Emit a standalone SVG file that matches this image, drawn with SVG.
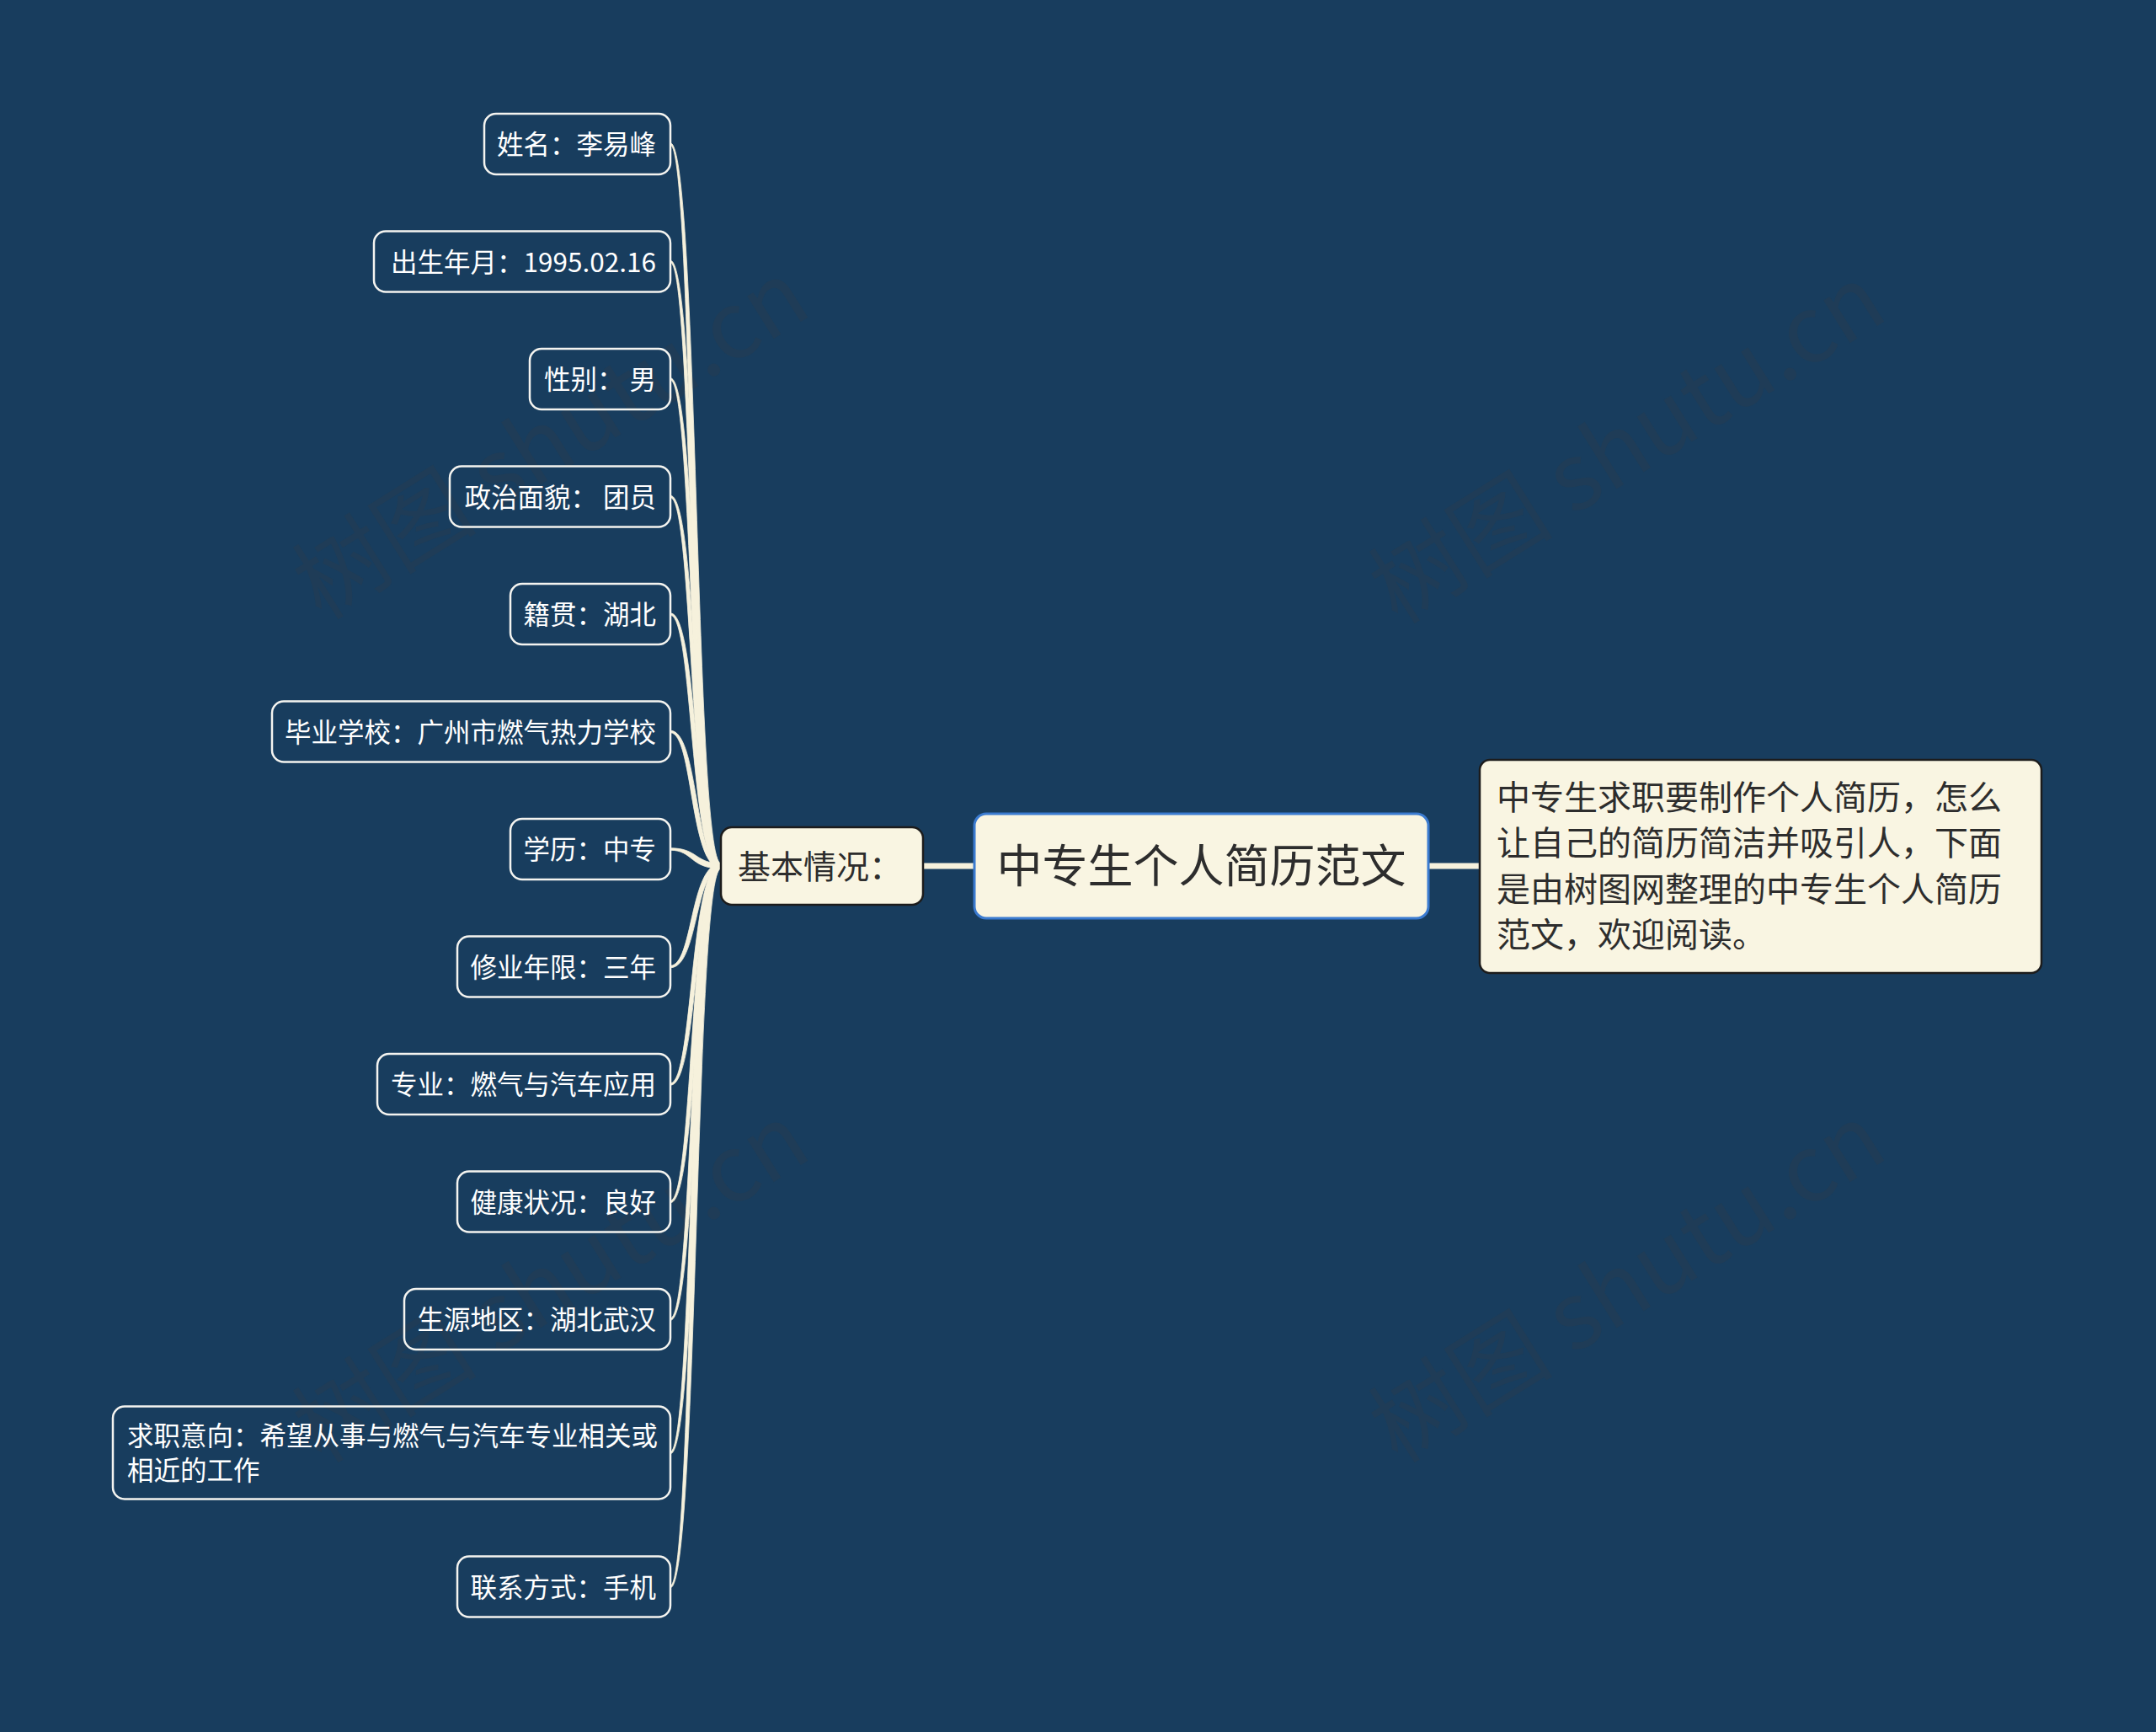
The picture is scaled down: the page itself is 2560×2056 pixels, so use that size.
<svg xmlns="http://www.w3.org/2000/svg" width="2560" height="2056" viewBox="0 0 2560 2056">
<style>
.bg{fill:#183d5e}
.wm{font-family:"Noto Sans CJK SC","Noto Sans",sans-serif;font-size:110px;fill:#3c3c3c;fill-opacity:0.2}
.leaf rect{fill:none;stroke:#f4f4f0;stroke-width:2.5}
.leaf text{font-family:"Noto Sans CJK SC","Noto Sans",sans-serif;font-size:31.5px;fill:#ffffff}
.conn path{fill:#f6f1dc;stroke:#f6f1dc;stroke-width:0.8;stroke-linejoin:round}
.conn line{stroke:#f6f1dc;stroke-width:7}
.dark{font-family:"Noto Sans CJK SC","Noto Sans",sans-serif;fill:#2d2d2d}
</style>
<rect class="bg" x="0" y="0" width="2560" height="2056"/>
<g id="watermarks">
<text class="wm" transform="translate(649,514) rotate(-32)" text-anchor="middle" dominant-baseline="central">树图 shutu.cn</text>
<text class="wm" transform="translate(1927,519) rotate(-32)" text-anchor="middle" dominant-baseline="central">树图 shutu.cn</text>
<text class="wm" transform="translate(649,1515) rotate(-32)" text-anchor="middle" dominant-baseline="central">树图 shutu.cn</text>
<text class="wm" transform="translate(1927,1515) rotate(-32)" text-anchor="middle" dominant-baseline="central">树图 shutu.cn</text>
</g>
<g id="connectors" class="conn">
<line x1="1096" y1="1028" x2="1158" y2="1028"/>
<line x1="1696" y1="1028" x2="1757" y2="1028"/>
<path d="M796,169.75 C829,169.75 825,1025 856,1025 L856,1031 C819,1031 823,172.25 796,172.25Z"/>
<path d="M796,309.25 C829,309.25 825,1025 856,1025 L856,1031 C819,1031 823,311.75 796,311.75Z"/>
<path d="M796,448.75 C829,448.75 825,1025 856,1025 L856,1031 C819,1031 823,451.25 796,451.25Z"/>
<path d="M796,588.25 C829,588.25 825,1025 856,1025 L856,1031 C819,1031 823,590.75 796,590.75Z"/>
<path d="M796,727.75 C829,727.75 825,1025 856,1025 L856,1031 C819,1031 823,730.25 796,730.25Z"/>
<path d="M796,867.25 C829,867.25 825,1025 856,1025 L856,1031 C819,1031 823,869.75 796,869.75Z"/>
<path d="M796,1006.75 C829,1006.75 825,1025 856,1025 L856,1031 C819,1031 823,1009.25 796,1009.25Z"/>
<path d="M796,1146.25 C823,1146.25 819,1025 856,1025 L856,1031 C825,1031 829,1148.75 796,1148.75Z"/>
<path d="M796,1285.75 C823,1285.75 819,1025 856,1025 L856,1031 C825,1031 829,1288.25 796,1288.25Z"/>
<path d="M796,1425.25 C823,1425.25 819,1025 856,1025 L856,1031 C825,1031 829,1427.75 796,1427.75Z"/>
<path d="M796,1564.75 C823,1564.75 819,1025 856,1025 L856,1031 C825,1031 829,1567.25 796,1567.25Z"/>
<path d="M796,1723.25 C823,1723.25 819,1025 856,1025 L856,1031 C825,1031 829,1725.75 796,1725.75Z"/>
<path d="M796,1882.25 C823,1882.25 819,1025 856,1025 L856,1031 C825,1031 829,1884.75 796,1884.75Z"/>
</g>
<g id="root">
<rect x="1157" y="966" width="539" height="124" rx="14" fill="#f9f5e2" stroke="#3b7bd0" stroke-width="3"/>
<text class="dark" x="1426.5" y="1048" font-size="54" text-anchor="middle">中专生个人简历范文</text>
</g>
<g id="basic">
<rect x="856" y="982" width="240" height="92" rx="13" fill="#f9f5e2" stroke="#1c1c1c" stroke-width="2.5"/>
<text class="dark" x="876" y="1043" font-size="39">基本情况：</text>
</g>
<g id="desc">
<rect x="1757" y="902" width="667" height="253" rx="12" fill="#f9f5e2" stroke="#1c1c1c" stroke-width="2.5"/>
<text class="dark" font-size="40">
<tspan x="1777" y="961">中专生求职要制作个人简历，怎么</tspan>
<tspan x="1777" y="1015">让自己的简历简洁并吸引人，下面</tspan>
<tspan x="1777" y="1070">是由树图网整理的中专生个人简历</tspan>
<tspan x="1777" y="1124">范文，欢迎阅读。</tspan>
</text>
</g>
<g id="leaf1" class="leaf"><rect x="575" y="135" width="221" height="72" rx="14"/><text x="779" y="183" text-anchor="end">姓名：李易峰</text></g>
<g id="leaf2" class="leaf"><rect x="444" y="274.5" width="352" height="72" rx="14"/><text x="779" y="322.5" text-anchor="end">出生年月：1995.02.16</text></g>
<g id="leaf3" class="leaf"><rect x="629" y="414" width="167" height="72" rx="14"/><text x="779" y="462" text-anchor="end">性别： 男</text></g>
<g id="leaf4" class="leaf"><rect x="534" y="553.5" width="262" height="72" rx="14"/><text x="779" y="601.5" text-anchor="end">政治面貌： 团员</text></g>
<g id="leaf5" class="leaf"><rect x="606" y="693" width="190" height="72" rx="14"/><text x="779" y="741" text-anchor="end">籍贯：湖北</text></g>
<g id="leaf6" class="leaf"><rect x="323" y="832.5" width="473" height="72" rx="14"/><text x="779" y="880.5" text-anchor="end">毕业学校：广州市燃气热力学校</text></g>
<g id="leaf7" class="leaf"><rect x="606" y="972" width="190" height="72" rx="14"/><text x="779" y="1020" text-anchor="end">学历：中专</text></g>
<g id="leaf8" class="leaf"><rect x="543" y="1111.5" width="253" height="72" rx="14"/><text x="779" y="1159.5" text-anchor="end">修业年限：三年</text></g>
<g id="leaf9" class="leaf"><rect x="448" y="1251" width="348" height="72" rx="14"/><text x="779" y="1299" text-anchor="end">专业：燃气与汽车应用</text></g>
<g id="leaf10" class="leaf"><rect x="543" y="1390.5" width="253" height="72" rx="14"/><text x="779" y="1438.5" text-anchor="end">健康状况：良好</text></g>
<g id="leaf11" class="leaf"><rect x="480" y="1530" width="316" height="72" rx="14"/><text x="779" y="1578" text-anchor="end">生源地区：湖北武汉</text></g>
<g id="leaf12" class="leaf"><rect x="134" y="1669.5" width="662" height="110" rx="14"/><text><tspan x="151" y="1716">求职意向：希望从事与燃气与汽车专业相关或</tspan><tspan x="151" y="1757">相近的工作</tspan></text></g>
<g id="leaf13" class="leaf"><rect x="543" y="1847.5" width="253" height="72" rx="14"/><text x="779" y="1895.5" text-anchor="end">联系方式：手机</text></g>
</svg>
